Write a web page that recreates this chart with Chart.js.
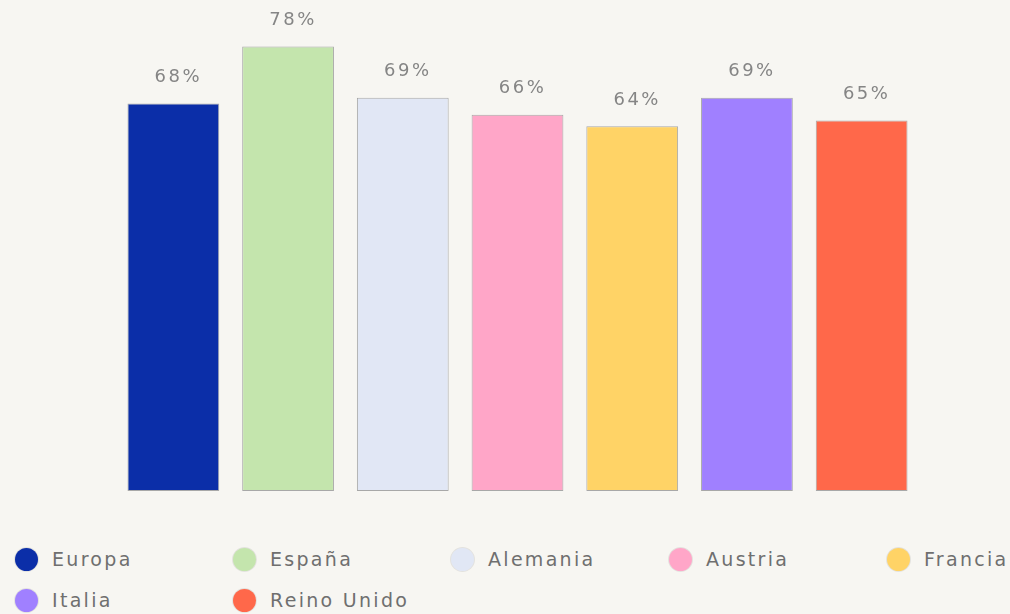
<!DOCTYPE html>
<html>
<head>
<meta charset="utf-8">
<script src="https://cdn.jsdelivr.net/npm/chart.js@4/dist/chart.umd.min.js"></script>
<style>
  html, body { margin: 0; padding: 0; background: #f7f6f2; }
  #wrap { position: relative; width: 1010px; height: 614px; overflow: hidden; }
  #box { position: absolute; left: 0; top: 0; width: 1010px; height: 510px; }
  #legend { position: absolute; left: 15px; top: 547px; width: 1100px; display: grid;
    grid-template-columns: repeat(5, 218px); row-gap: 17px;
    font-family: "DejaVu Sans", sans-serif; font-size: 19px; letter-spacing: 2.3px; color: #6f6f6f; }
  .item { display: flex; align-items: center; height: 24px; white-space: nowrap; }
  .dot { width: 23px; height: 23px; border-radius: 50%; margin-right: 14px; box-shadow: 0 0 0 1px rgba(0,0,0,0.08); }
</style>
</head>
<body>
<div id="wrap">
  <div id="box"><canvas id="chart"></canvas></div>
  <div id="legend"></div>
</div>
<script>
const countries = ['Europa', 'España', 'Alemania', 'Austria', 'Francia', 'Italia', 'Reino Unido'];
const values = [68, 78, 69, 66, 64, 69, 65];
const colors = ['#0b2ea8', '#c4e5ad', '#e1e7f5', '#ffa6c8', '#ffd366', '#a080ff', '#ff684a'];

// percentage labels above each bar
const barLabels = {
  id: 'barLabels',
  afterDatasetsDraw(chart) {
    const ctx = chart.ctx;
    const meta = chart.getDatasetMeta(0);
    ctx.save();
    ctx.font = '18px "DejaVu Sans", sans-serif';
    ctx.letterSpacing = '2.5px';
    ctx.fillStyle = '#858585';
    ctx.textAlign = 'center';
    ctx.textBaseline = 'middle';
    meta.data.forEach((bar, i) => {
      ctx.fillText(values[i] + '%', bar.x + 5, bar.y - 26);
    });
    ctx.restore();
  }
};

new Chart(document.getElementById('chart'), {
  type: 'bar',
  data: {
    labels: countries,
    datasets: [{
      data: values,
      backgroundColor: colors,
      borderColor: '#a8a8a8',
      borderWidth: 1,
      borderSkipped: false,
      barPercentage: 0.8,
      categoryPercentage: 1
    }]
  },
  options: {
    responsive: true,
    maintainAspectRatio: false,
    animation: false,
    layout: { padding: { left: 116, right: 91, top: 35, bottom: 19 } },
    scales: {
      x: { display: false },
      y: { display: false, min: 0, max: 80 }
    },
    plugins: {
      legend: { display: false },
      tooltip: { enabled: false }
    }
  },
  plugins: [barLabels]
});

const legend = document.getElementById('legend');
countries.forEach((name, i) => {
  const item = document.createElement('div');
  item.className = 'item';
  item.innerHTML = '<span class="dot" style="background:' + colors[i] + '"></span><span>' + name + '</span>';
  legend.appendChild(item);
});
</script>
</body>
</html>
